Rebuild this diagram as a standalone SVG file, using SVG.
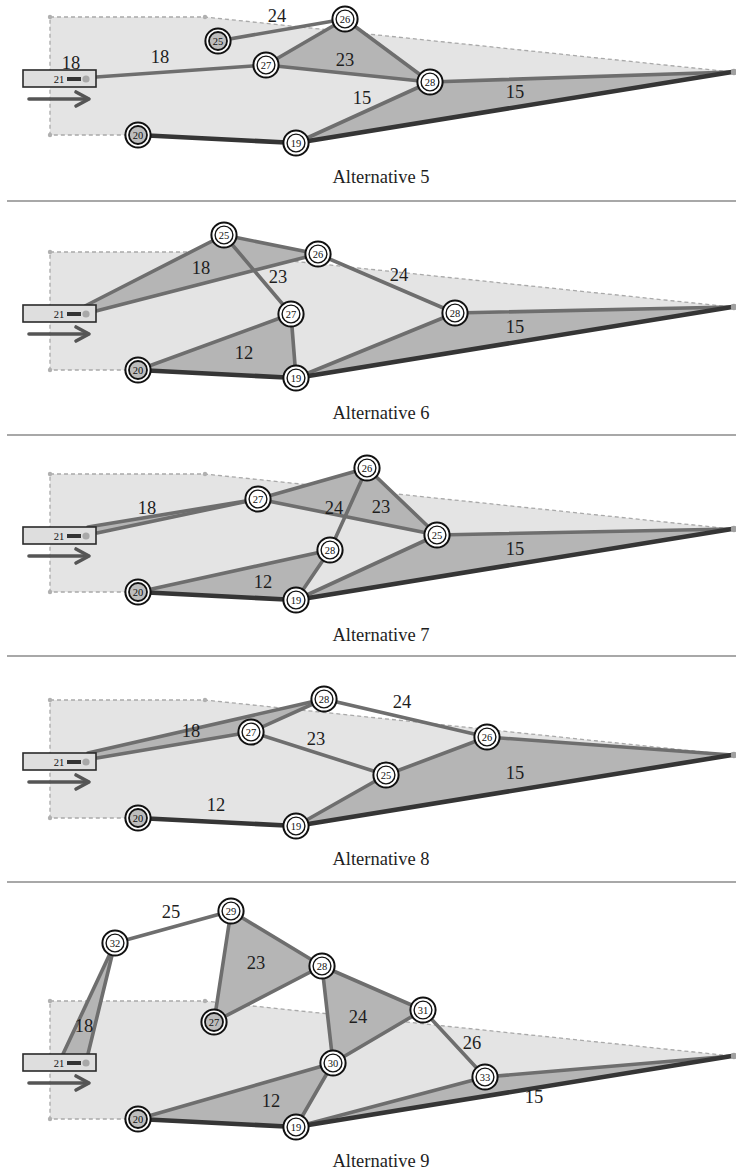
<svg xmlns="http://www.w3.org/2000/svg" xmlns:xlink="http://www.w3.org/1999/xlink" width="736" height="1171" viewBox="0 0 736 1171">
  <style>
    .zone { fill: #e4e4e4; stroke: #a9a9a9; stroke-width: 1.3; stroke-dasharray: 4 3; }
    .corner { fill: #b0b0b0; }
    .face { fill: #b5b5b5; stroke: none; }
    .e { stroke: #6e6e6e; stroke-width: 3.6; fill: none; stroke-linecap: round; }
    .d { stroke: #353535; stroke-width: 4.6; fill: none; stroke-linecap: round; }
    .lbl { font-family: "Liberation Serif", "Times New Roman", serif; font-size: 18.5px; fill: #1e1e1e; text-anchor: middle; }
    .cap { font-family: "Liberation Serif", "Times New Roman", serif; font-size: 18.5px; fill: #1e1e1e; text-anchor: middle; }
    .nt { font-family: "Liberation Serif", "Times New Roman", serif; font-size: 10.5px; fill: #111; text-anchor: middle; }
    .sep { stroke: #a8a8a8; stroke-width: 2; }
    .arrow { stroke: #555; stroke-width: 3.6; fill: none; stroke-linecap: round; stroke-linejoin: round; }
  </style>
  <defs>
    <g id="ring">
      <circle r="12.6" fill="#fff" stroke="#111" stroke-width="2"/>
      <circle r="8.9" fill="#fff" stroke="#111" stroke-width="1.4"/>
    </g>
    <g id="ringEnd">
      <circle r="12.6" fill="#fff" stroke="#111" stroke-width="2"/>
      <circle r="9" fill="#bdbdbd" stroke="#111" stroke-width="1.8"/>
    </g>
    <!-- corridor zone shared by every alternative -->
    <g id="zone">
      <polygon class="zone" points="50,17 205,17 732,72 296,143 138,135 50,135"/>
      <circle class="corner" cx="50" cy="17" r="2.2"/>
      <circle class="corner" cx="205" cy="17" r="2.2"/>
      <circle class="corner" cx="50" cy="135" r="2.2"/>
    </g>
    <!-- entry box with its label and direction arrow -->
    <g id="entry">
      <rect x="23" y="70" width="73" height="17" fill="#dedede" stroke="#2a2a2a" stroke-width="1.6"/>
      <text class="nt" x="59" y="83">21</text>
      <rect x="67" y="77" width="14" height="4" fill="#333"/>
      <circle cx="86" cy="79" r="3.6" fill="#a8a8a8"/>
      <line class="arrow" x1="29" y1="99" x2="88" y2="99"/>
      <polyline class="arrow" points="76,92 89,99 76,106"/>
    </g>
    <circle id="apex" r="3.2" fill="#a0a0a0"/>
  </defs>

  <!-- separators -->
  <g id="separators">
    <line class="sep" x1="7" y1="201" x2="736" y2="201"/>
    <line class="sep" x1="7" y1="435" x2="736" y2="435"/>
    <line class="sep" x1="7" y1="656" x2="736" y2="656"/>
    <line class="sep" x1="7" y1="882" x2="736" y2="882"/>
  </g>

  <!-- ========== Alternative 5 ========== -->
  <g id="alt5" transform="translate(0,0)">
    <use xlink:href="#zone"/>
    <g id="alt5-faces">
      <polygon class="face" points="266,65 345,19 430,82"/>
      <polygon class="face" points="296,143 430,82 732,72"/>
    </g>
    <g id="alt5-connectors">
      <line class="e" x1="218" y1="41" x2="345" y2="19"/>
      <line class="e" x1="96" y1="77" x2="266" y2="65"/>
      <line class="e" x1="266" y1="65" x2="345" y2="19"/>
      <line class="e" x1="266" y1="65" x2="430" y2="82"/>
      <line class="e" x1="345" y1="19" x2="430" y2="82"/>
      <line class="e" x1="296" y1="143" x2="430" y2="82"/>
      <line class="e" x1="430" y1="82" x2="732" y2="72"/>
      <line class="d" x1="138" y1="135" x2="296" y2="143"/>
      <line class="d" x1="296" y1="143" x2="732" y2="72"/>
    </g>
    <use xlink:href="#apex" x="734" y="72"/>
    <g id="alt5-n21"><use xlink:href="#entry"/></g>
    <g id="alt5-n20" transform="translate(138,135)"><use xlink:href="#ringEnd"/><text class="nt" y="3.7">20</text></g>
    <g id="alt5-n19" transform="translate(296,143)"><use xlink:href="#ring"/><text class="nt" y="3.7">19</text></g>
    <g id="alt5-n25" transform="translate(218,41)"><use xlink:href="#ringEnd"/><text class="nt" y="3.7">25</text></g>
    <g id="alt5-n26" transform="translate(345,19)"><use xlink:href="#ring"/><text class="nt" y="3.7">26</text></g>
    <g id="alt5-n27" transform="translate(266,65)"><use xlink:href="#ring"/><text class="nt" y="3.7">27</text></g>
    <g id="alt5-n28" transform="translate(430,82)"><use xlink:href="#ring"/><text class="nt" y="3.7">28</text></g>
    <g id="alt5-labels">
      <text class="lbl" x="277" y="22">24</text>
      <text class="lbl" x="71" y="69">18</text>
      <text class="lbl" x="160" y="63">18</text>
      <text class="lbl" x="345" y="66">23</text>
      <text class="lbl" x="362" y="104">15</text>
      <text class="lbl" x="515" y="98">15</text>
      <text class="cap" x="381" y="183">Alternative 5</text>
    </g>
  </g>

  <!-- ========== Alternative 6 ========== -->
  <g id="alt6" transform="translate(0,235)">
    <use xlink:href="#zone"/>
    <g id="alt6-faces">
      <polygon class="face" points="85,71 224,0 318,19 96,76"/>
      <polygon class="face" points="138,135 291,79 296,143"/>
      <polygon class="face" points="296,143 455,78 732,72"/>
    </g>
    <g id="alt6-connectors">
      <line class="e" x1="85" y1="71" x2="224" y2="0"/>
      <line class="e" x1="96" y1="76" x2="318" y2="19"/>
      <line class="e" x1="224" y1="0" x2="318" y2="19"/>
      <line class="e" x1="224" y1="0" x2="291" y2="79"/>
      <line class="e" x1="318" y1="19" x2="455" y2="78"/>
      <line class="e" x1="138" y1="135" x2="291" y2="79"/>
      <line class="e" x1="291" y1="79" x2="296" y2="143"/>
      <line class="e" x1="296" y1="143" x2="455" y2="78"/>
      <line class="e" x1="455" y1="78" x2="732" y2="72"/>
      <line class="d" x1="138" y1="135" x2="296" y2="143"/>
      <line class="d" x1="296" y1="143" x2="732" y2="72"/>
    </g>
    <use xlink:href="#apex" x="734" y="72"/>
    <g id="alt6-n21"><use xlink:href="#entry"/></g>
    <g id="alt6-n20" transform="translate(138,135)"><use xlink:href="#ringEnd"/><text class="nt" y="3.7">20</text></g>
    <g id="alt6-n19" transform="translate(296,143)"><use xlink:href="#ring"/><text class="nt" y="3.7">19</text></g>
    <g id="alt6-n25" transform="translate(224,0)"><use xlink:href="#ring"/><text class="nt" y="3.7">25</text></g>
    <g id="alt6-n26" transform="translate(318,19)"><use xlink:href="#ring"/><text class="nt" y="3.7">26</text></g>
    <g id="alt6-n27" transform="translate(291,79)"><use xlink:href="#ring"/><text class="nt" y="3.7">27</text></g>
    <g id="alt6-n28" transform="translate(455,78)"><use xlink:href="#ring"/><text class="nt" y="3.7">28</text></g>
    <g id="alt6-labels">
      <text class="lbl" x="201" y="39">18</text>
      <text class="lbl" x="278" y="48">23</text>
      <text class="lbl" x="399" y="46">24</text>
      <text class="lbl" x="244" y="124">12</text>
      <text class="lbl" x="515" y="98">15</text>
      <text class="cap" x="381" y="184">Alternative 6</text>
    </g>
  </g>

  <!-- ========== Alternative 7 ========== -->
  <g id="alt7" transform="translate(0,457)">
    <use xlink:href="#zone"/>
    <g id="alt7-faces">
      <polygon class="face" points="88,70 258,42 97,76"/>
      <polygon class="face" points="258,42 367,11 437,78"/>
      <polygon class="face" points="138,135 330,93 296,143"/>
      <polygon class="face" points="296,143 437,78 732,72"/>
    </g>
    <g id="alt7-connectors">
      <line class="e" x1="88" y1="70" x2="258" y2="42"/>
      <line class="e" x1="97" y1="76" x2="258" y2="42"/>
      <line class="e" x1="258" y1="42" x2="367" y2="11"/>
      <line class="e" x1="258" y1="42" x2="437" y2="78"/>
      <line class="e" x1="367" y1="11" x2="330" y2="93"/>
      <line class="e" x1="367" y1="11" x2="437" y2="78"/>
      <line class="e" x1="138" y1="135" x2="330" y2="93"/>
      <line class="e" x1="330" y1="93" x2="296" y2="143"/>
      <line class="e" x1="296" y1="143" x2="437" y2="78"/>
      <line class="e" x1="437" y1="78" x2="732" y2="72"/>
      <line class="d" x1="138" y1="135" x2="296" y2="143"/>
      <line class="d" x1="296" y1="143" x2="732" y2="72"/>
    </g>
    <use xlink:href="#apex" x="734" y="72"/>
    <g id="alt7-n21"><use xlink:href="#entry"/></g>
    <g id="alt7-n20" transform="translate(138,135)"><use xlink:href="#ringEnd"/><text class="nt" y="3.7">20</text></g>
    <g id="alt7-n19" transform="translate(296,143)"><use xlink:href="#ring"/><text class="nt" y="3.7">19</text></g>
    <g id="alt7-n27" transform="translate(258,42)"><use xlink:href="#ring"/><text class="nt" y="3.7">27</text></g>
    <g id="alt7-n26" transform="translate(367,11)"><use xlink:href="#ring"/><text class="nt" y="3.7">26</text></g>
    <g id="alt7-n28" transform="translate(330,93)"><use xlink:href="#ring"/><text class="nt" y="3.7">28</text></g>
    <g id="alt7-n25" transform="translate(437,78)"><use xlink:href="#ring"/><text class="nt" y="3.7">25</text></g>
    <g id="alt7-labels">
      <text class="lbl" x="147" y="57">18</text>
      <text class="lbl" x="334" y="57">24</text>
      <text class="lbl" x="381" y="56">23</text>
      <text class="lbl" x="263" y="131">12</text>
      <text class="lbl" x="515" y="98">15</text>
      <text class="cap" x="381" y="184">Alternative 7</text>
    </g>
  </g>

  <!-- ========== Alternative 8 ========== -->
  <g id="alt8" transform="translate(0,683)">
    <use xlink:href="#zone"/>
    <g id="alt8-faces">
      <polygon class="face" points="88,70 324,16 251,49 97,75"/>
      <polygon class="face" points="296,143 386,92 487,54 732,72"/>
    </g>
    <g id="alt8-connectors">
      <line class="e" x1="88" y1="70" x2="324" y2="16"/>
      <line class="e" x1="97" y1="75" x2="251" y2="49"/>
      <line class="e" x1="251" y1="49" x2="324" y2="16"/>
      <line class="e" x1="251" y1="49" x2="386" y2="92"/>
      <line class="e" x1="324" y1="16" x2="487" y2="54"/>
      <line class="e" x1="386" y1="92" x2="487" y2="54"/>
      <line class="e" x1="296" y1="143" x2="386" y2="92"/>
      <line class="e" x1="487" y1="54" x2="732" y2="72"/>
      <line class="d" x1="138" y1="135" x2="296" y2="143"/>
      <line class="d" x1="296" y1="143" x2="732" y2="72"/>
    </g>
    <use xlink:href="#apex" x="734" y="72"/>
    <g id="alt8-n21"><use xlink:href="#entry"/></g>
    <g id="alt8-n20" transform="translate(138,135)"><use xlink:href="#ringEnd"/><text class="nt" y="3.7">20</text></g>
    <g id="alt8-n19" transform="translate(296,143)"><use xlink:href="#ring"/><text class="nt" y="3.7">19</text></g>
    <g id="alt8-n28" transform="translate(324,16)"><use xlink:href="#ring"/><text class="nt" y="3.7">28</text></g>
    <g id="alt8-n27" transform="translate(251,49)"><use xlink:href="#ring"/><text class="nt" y="3.7">27</text></g>
    <g id="alt8-n25" transform="translate(386,92)"><use xlink:href="#ring"/><text class="nt" y="3.7">25</text></g>
    <g id="alt8-n26" transform="translate(487,54)"><use xlink:href="#ring"/><text class="nt" y="3.7">26</text></g>
    <g id="alt8-labels">
      <text class="lbl" x="191" y="54">18</text>
      <text class="lbl" x="402" y="25">24</text>
      <text class="lbl" x="316" y="62">23</text>
      <text class="lbl" x="216" y="128">12</text>
      <text class="lbl" x="515" y="96">15</text>
      <text class="cap" x="381" y="182">Alternative 8</text>
    </g>
  </g>

  <!-- ========== Alternative 9 ========== -->
  <g id="alt9" transform="translate(0,984)">
    <use xlink:href="#zone"/>
    <g id="alt9-faces">
      <polygon class="face" points="63,70 115,-41 88,70"/>
      <polygon class="face" points="231,-73 214,38 322,-18"/>
      <polygon class="face" points="322,-18 423,26 333,79"/>
      <polygon class="face" points="138,135 333,79 296,143"/>
      <polygon class="face" points="296,143 485,93 732,72"/>
    </g>
    <g id="alt9-connectors">
      <line class="e" x1="63" y1="70" x2="115" y2="-41"/>
      <line class="e" x1="88" y1="70" x2="115" y2="-41"/>
      <line class="e" x1="115" y1="-41" x2="231" y2="-73"/>
      <line class="e" x1="231" y1="-73" x2="322" y2="-18"/>
      <line class="e" x1="231" y1="-73" x2="214" y2="38"/>
      <line class="e" x1="214" y1="38" x2="322" y2="-18"/>
      <line class="e" x1="322" y1="-18" x2="333" y2="79"/>
      <line class="e" x1="322" y1="-18" x2="423" y2="26"/>
      <line class="e" x1="333" y1="79" x2="423" y2="26"/>
      <line class="e" x1="138" y1="135" x2="333" y2="79"/>
      <line class="e" x1="333" y1="79" x2="296" y2="143"/>
      <line class="e" x1="423" y1="26" x2="485" y2="93"/>
      <line class="e" x1="296" y1="143" x2="485" y2="93"/>
      <line class="e" x1="485" y1="93" x2="732" y2="72"/>
      <line class="d" x1="138" y1="135" x2="296" y2="143"/>
      <line class="d" x1="296" y1="143" x2="732" y2="72"/>
    </g>
    <use xlink:href="#apex" x="734" y="72"/>
    <g id="alt9-n21"><use xlink:href="#entry"/></g>
    <g id="alt9-n20" transform="translate(138,135)"><use xlink:href="#ringEnd"/><text class="nt" y="3.7">20</text></g>
    <g id="alt9-n19" transform="translate(296,143)"><use xlink:href="#ring"/><text class="nt" y="3.7">19</text></g>
    <g id="alt9-n32" transform="translate(115,-41)"><use xlink:href="#ring"/><text class="nt" y="3.7">32</text></g>
    <g id="alt9-n29" transform="translate(231,-73)"><use xlink:href="#ring"/><text class="nt" y="3.7">29</text></g>
    <g id="alt9-n28" transform="translate(322,-18)"><use xlink:href="#ring"/><text class="nt" y="3.7">28</text></g>
    <g id="alt9-n27" transform="translate(214,38)"><use xlink:href="#ringEnd"/><text class="nt" y="3.7">27</text></g>
    <g id="alt9-n30" transform="translate(333,79)"><use xlink:href="#ring"/><text class="nt" y="3.7">30</text></g>
    <g id="alt9-n31" transform="translate(423,26)"><use xlink:href="#ring"/><text class="nt" y="3.7">31</text></g>
    <g id="alt9-n33" transform="translate(485,93)"><use xlink:href="#ring"/><text class="nt" y="3.7">33</text></g>
    <g id="alt9-labels">
      <text class="lbl" x="171" y="-66">25</text>
      <text class="lbl" x="256" y="-15">23</text>
      <text class="lbl" x="84" y="48">18</text>
      <text class="lbl" x="358" y="39">24</text>
      <text class="lbl" x="271" y="123">12</text>
      <text class="lbl" x="472" y="65">26</text>
      <text class="lbl" x="534" y="119">15</text>
      <text class="cap" x="381" y="183">Alternative 9</text>
    </g>
  </g>
</svg>
